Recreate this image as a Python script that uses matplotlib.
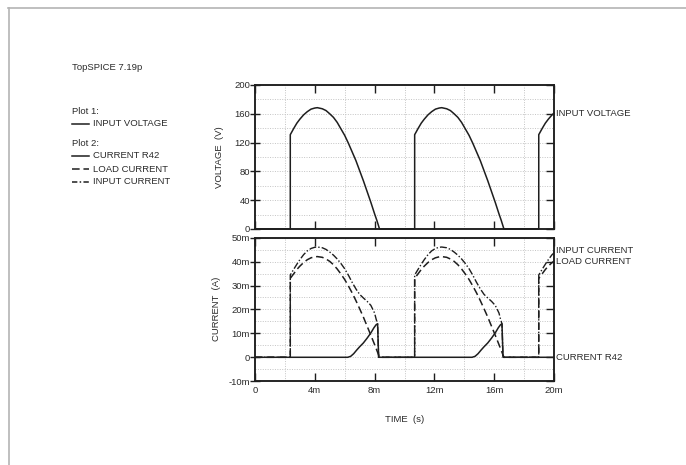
import matplotlib
matplotlib.use("Agg")
import matplotlib.pyplot as plt
from matplotlib.lines import Line2D

plt.rcParams["font.family"] = ["Liberation Sans", "DejaVu Sans"]
plt.rcParams["font.size"] = 6.8

W, H = 686, 465
INK = "#1e1e1e"
TXT = "#2a2a2a"
GRID = "#c4c4c4"
FRAME = "#b4b4b4"

# time in ms, voltage in V, currents in mA
T_P1 = [2.36, 2.6, 2.8, 3.0, 3.25, 3.5, 3.75, 4.0, 4.17, 4.5, 4.75, 5.0, 5.25,
        5.5, 5.75, 6.0, 6.25, 6.5, 6.75, 7.0, 7.25, 7.5, 7.75, 8.0, 8.15, 8.33]
T_P2 = [10.68, 10.92, 11.12, 11.32, 11.57, 11.82, 12.07, 12.32, 12.49, 12.82, 13.07,
        13.32, 13.57, 13.82, 14.07, 14.32, 14.57, 14.82, 15.07, 15.32, 15.57, 15.82,
        16.07, 16.32, 16.47, 16.65]
T_P3 = [18.98, 19.22, 19.42, 19.62, 19.87, 20.0]

V_PULSE = [131, 140, 147, 152.5, 158.5, 163, 166.5, 168, 168.5, 167, 164.5, 160, 155,
           148, 139, 130, 119, 107, 95, 81, 67, 52, 37, 21, 12, 0]
V_P3 = [131, 140, 147, 152.5, 158.5, 161]

LOAD_PULSE = [33, 35, 36.7, 38.1, 39.6, 40.8, 41.6, 42, 42.1, 41.8, 41.1, 40.1, 38.7,
              36.9, 34.8, 32.5, 29.8, 26.9, 23.7, 20.3, 16.8, 13, 9.2, 5.3, 2.9, 0]
LOAD_P3 = [33, 35, 36.7, 38.1, 39.6, 40.2]

T_IN1 = [2.36, 2.6, 2.8, 3.0, 3.25, 3.5, 3.75, 4.0, 4.17, 4.5, 4.75, 5.0, 5.25, 5.5,
         5.75, 6.0, 6.25, 6.5, 6.75, 7.0, 7.25, 7.5, 7.75, 8.0, 8.1, 8.2, 8.27]
T_IN2 = [10.68, 10.92, 11.12, 11.32, 11.57, 11.82, 12.07, 12.32, 12.49, 12.82, 13.07,
         13.32, 13.57, 13.82, 14.07, 14.32, 14.57, 14.82, 15.07, 15.32, 15.57, 15.82,
         16.07, 16.32, 16.42, 16.52, 16.59]
INPUT_PULSE = [34.4, 36.9, 38.9, 40.8, 42.9, 44.5, 45.5, 46, 46.1, 45.8, 45.1, 44, 42.7,
               41.1, 39.2, 37, 34.3, 31.3, 28.6, 26.3, 24.8, 23.4, 21.7, 18.5, 16, 14, 0]
INPUT_P3 = [34.4, 36.9, 38.9, 40.8, 42.9, 43.6]

T_R1 = [6.2, 6.4, 6.6, 6.8, 7.0, 7.25, 7.5, 7.75, 7.95, 8.1, 8.2, 8.27]
T_R2 = [14.52, 14.72, 14.92, 15.12, 15.32, 15.57, 15.82, 16.07, 16.27, 16.42, 16.52, 16.59]
R42_PULSE = [0, 0.4, 1.5, 3, 4.4, 6, 8, 10.2, 12.3, 13.6, 14, 0]

X_TICKS = [0, 4, 8, 12, 16, 20]
X_LABELS = ["0", "4m", "8m", "12m", "16m", "20m"]
V_TICKS = [0, 40, 80, 120, 160, 200]
I_TICKS = [-10, 0, 10, 20, 30, 40, 50]
I_LABELS = ["-10m", "0", "10m", "20m", "30m", "40m", "50m"]

t_volt = [0, 2.36] + T_P1 + [10.68] + T_P2 + [18.98] + T_P3
v_in = [0, 0] + V_PULSE + [0] + V_PULSE + [0] + V_P3
t_load = [0, 2.36] + T_P1 + [10.68] + T_P2 + [18.98] + T_P3
i_load = [0, 0] + LOAD_PULSE + [0] + LOAD_PULSE + [0] + LOAD_P3
t_input = [0, 2.36] + T_IN1 + [10.68] + T_IN2 + [18.98] + T_P3
i_input = [0, 0] + INPUT_PULSE + [0] + INPUT_PULSE + [0] + INPUT_P3
t_r42 = [0] + T_R1 + T_R2 + [20]
i_r42 = [0] + R42_PULSE + R42_PULSE + [0]


def fx(px):
    return px / W


def fy(py):
    return 1 - py / H


def style_axes(ax, ylim, yticks, yminor, ylabels=None):
    ax.set_xlim(0, 20)
    ax.set_ylim(*ylim)
    ax.set_xticks(X_TICKS)
    ax.set_xticks([2, 6, 10, 14, 18], minor=True)
    ax.set_yticks(yticks)
    ax.set_yticks(yminor, minor=True)
    if ylabels is not None:
        ax.set_yticklabels(ylabels)
    ax.grid(which="minor", axis="x", color=GRID, linestyle=(0, (1, 1.5)), linewidth=0.7)
    ax.grid(which="both", axis="y", color=GRID, linestyle=(0, (1, 1.5)), linewidth=0.7)
    ax.set_axisbelow(True)
    ax.tick_params(axis="x", which="major", direction="in", length=5.8, width=1.0,
                   top=True, color=INK, labelcolor=TXT, pad=3.5)
    ax.tick_params(axis="y", which="major", direction="inout", length=7.2, width=1.0,
                   color=INK, labelcolor=TXT, pad=0)
    ax.tick_params(which="minor", length=0)
    for sp in ax.spines.values():
        sp.set_color(INK)
        sp.set_linewidth(1.1)
    # right-hand ticks point inward only
    tw = ax.twinx()
    tw.set_ylim(*ylim)
    tw.set_yticks(yticks)
    tw.tick_params(axis="y", direction="in", length=5.8, width=1.0, color=INK,
                   labelright=False)
    tw.tick_params(which="minor", length=0)
    for sp in tw.spines.values():
        sp.set_color(INK)
        sp.set_linewidth(1.1)
    return tw


fig = plt.figure(figsize=(W / 100, H / 100), dpi=100)

ax_v = fig.add_axes([fx(255), fy(229), 299 / W, 144 / H])
ax_i = fig.add_axes([fx(255), fy(381.2), 299 / W, 143.5 / H])

style_axes(ax_v, (0, 200), V_TICKS, [20, 60, 100, 140, 180])
ax_v.set_xticklabels([])

style_axes(ax_i, (-10, 50), I_TICKS, [-5, 5, 15, 25, 35, 45], I_LABELS)
ax_i.set_xticklabels(X_LABELS)

ax_v.plot(t_volt, v_in, color=INK, linewidth=1.1, clip_on=False)

ax_i.plot(t_r42, i_r42, color=INK, linewidth=1.1)
ax_i.plot(t_load, i_load, color=INK, linewidth=1.1, linestyle=(0, (5, 2.5)))
ax_i.plot(t_input, i_input, color=INK, linewidth=1.0, linestyle=(0, (5, 1.5, 1, 1.5)))

fig.text(fx(220), fy(157), "VOLTAGE  (V)", rotation=90, ha="center", va="center", color=TXT)
fig.text(fx(216), fy(309), "CURRENT  (A)", rotation=90, ha="center", va="center", color=TXT)
fig.text(fx(405), fy(419), "TIME  (s)", ha="center", va="center", color=TXT)

# curve labels on the right edge
fig.text(fx(556), fy(113), "INPUT VOLTAGE", ha="left", va="center", color=TXT)
fig.text(fx(556), fy(250.5), "INPUT CURRENT", ha="left", va="center", color=TXT)
fig.text(fx(556), fy(261), "LOAD CURRENT", ha="left", va="center", color=TXT)
fig.text(fx(556), fy(357.5), "CURRENT R42", ha="left", va="center", color=TXT)

# legend block on the left
fig.text(fx(72), fy(68), "TopSPICE 7.19p", ha="left", va="center", color=TXT)
fig.text(fx(72), fy(112), "Plot 1:", ha="left", va="center", color=TXT)
fig.text(fx(72), fy(144), "Plot 2:", ha="left", va="center", color=TXT)
legend_rows = [
    (124, "INPUT VOLTAGE", "-"),
    (156, "CURRENT R42", "-"),
    (169, "LOAD CURRENT", (0, (5, 2.5))),
    (182, "INPUT CURRENT", (0, (3.5, 1.5, 1, 1.5))),
]
for y, label, ls in legend_rows:
    fig.add_artist(Line2D([fx(72), fx(88.5)], [fy(y), fy(y)], color=INK,
                          linewidth=1.1, linestyle=ls))
    fig.text(fx(93), fy(y), label, ha="left", va="center", color=TXT)

# page frame
fig.add_artist(Line2D([fx(8), fx(686)], [fy(8.5), fy(8.5)], color=FRAME, linewidth=1.2))
fig.add_artist(Line2D([fx(8.5), fx(8.5)], [fy(8), fy(465)], color=FRAME, linewidth=1.2))

fig.savefig("out.png", dpi=100)
